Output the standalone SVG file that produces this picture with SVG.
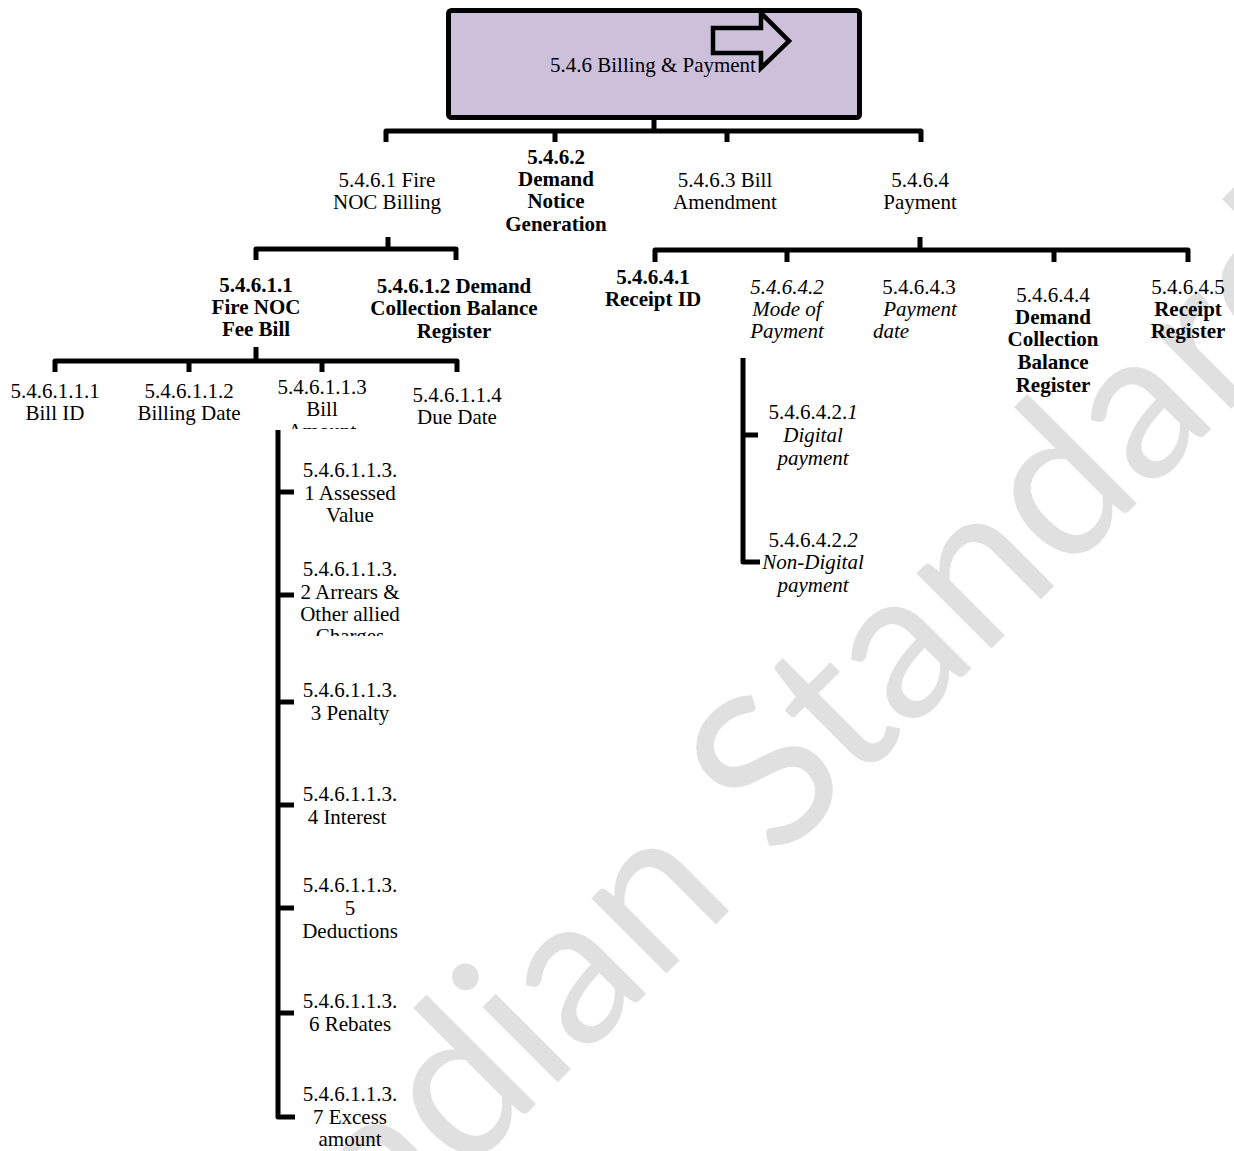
<svg xmlns="http://www.w3.org/2000/svg" width="1234" height="1151" viewBox="0 0 1234 1151">
<style>
text{font-family:"Liberation Serif","Times New Roman",serif;font-size:21px;fill:#000;text-anchor:middle}
.b{font-weight:bold}
.i{font-style:italic}
.ln{fill:none;stroke:#000;stroke-width:5;stroke-linejoin:round;stroke-linecap:butt}
.wm{font-family:Lato,"Open Sans",sans-serif;font-size:210px;fill:#e0e0e0;text-anchor:start}
</style>
<defs>
<clipPath id="clipAmount"><rect x="260" y="370" width="130" height="59"/></clipPath>
<clipPath id="clipCharges"><rect x="280" y="550" width="140" height="86"/></clipPath>
</defs>
<rect width="1234" height="1151" fill="#fff"/>
<text class="wm" transform="translate(340,1300) rotate(-45)">Indian Standard</text>

<g id="connectors">
<path class="ln" d="M654,120 V131 M386,142 V131 H921 V142 M555,131 V142 M727,131 V142"/>
<path class="ln" d="M388,237 V249 M256,260 V249 H456 V260"/>
<path class="ln" d="M920,237 V250 M655,262 V250 H1188 V262 M787,250 V262 M1054,250 V262"/>
<path class="ln" d="M256,347 V361 M55,372 V361 H457 V372 M189,361 V372 M322,361 V372"/>
<path class="ln" d="M278,430 V1117 H295 M278,492 H294 M278,595 H294 M278,702 H294 M278,805 H294 M278,908 H294 M278,1013 H294"/>
<path class="ln" d="M743,358 V562 H760 M743,435 H758"/>
</g>

<g id="n546">
<rect x="448.5" y="10.5" width="411" height="107" rx="3" fill="#ccc0da" stroke="#000" stroke-width="5"/>
<polygon points="713,28 761,28 761,13 789,41 761,68 761,53 713,53" fill="#ccc0da" stroke="#000" stroke-width="4.5" stroke-linejoin="miter"/>
<text x="653" y="72">5.4.6 Billing &amp; Payment</text>
</g>

<g id="n5461"><text x="387" y="187">5.4.6.1 Fire<tspan x="387" y="209">NOC Billing</tspan></text></g>
<g id="n5462"><text class="b" x="556" y="164">5.4.6.2<tspan x="556" y="186">Demand</tspan><tspan x="556" y="208">Notice</tspan><tspan x="556" y="231">Generation</tspan></text></g>
<g id="n5463"><text x="725" y="187">5.4.6.3 Bill<tspan x="725" y="209">Amendment</tspan></text></g>
<g id="n5464"><text x="920" y="187">5.4.6.4<tspan x="920" y="209">Payment</tspan></text></g>

<g id="n54611"><text class="b" x="256" y="292">5.4.6.1.1<tspan x="256" y="314">Fire NOC</tspan><tspan x="256" y="336">Fee Bill</tspan></text></g>
<g id="n54612"><text class="b" x="454" y="293">5.4.6.1.2 Demand<tspan x="454" y="315">Collection Balance</tspan><tspan x="454" y="338">Register</tspan></text></g>

<g id="n54641"><text class="b" x="653" y="284">5.4.6.4.1<tspan x="653" y="306">Receipt ID</tspan></text></g>
<g id="n54642"><text class="i" x="787" y="294">5.4.6.4.2<tspan x="787" y="316">Mode of</tspan><tspan x="787" y="338">Payment</tspan></text></g>
<g id="n54643"><text x="919" y="294">5.4.6.4.3<tspan class="i" x="920" y="316">Payment</tspan><tspan class="i" x="891" y="338">date</tspan></text></g>
<g id="n54644"><text x="1053" y="302">5.4.6.4.4<tspan class="b" x="1053" y="324">Demand</tspan><tspan class="b" x="1053" y="346">Collection</tspan><tspan class="b" x="1053" y="369">Balance</tspan><tspan class="b" x="1053" y="392">Register</tspan></text></g>
<g id="n54645"><text x="1188" y="294">5.4.6.4.5<tspan class="b" x="1188" y="316">Receipt</tspan><tspan class="b" x="1188" y="338">Register</tspan></text></g>

<g id="n546111"><text x="55" y="398">5.4.6.1.1.1<tspan x="55" y="420">Bill ID</tspan></text></g>
<g id="n546112"><text x="189" y="398">5.4.6.1.1.2<tspan x="189" y="420">Billing Date</tspan></text></g>
<g id="n546113" clip-path="url(#clipAmount)"><text x="322" y="394">5.4.6.1.1.3<tspan x="322" y="416">Bill</tspan><tspan x="322" y="438">Amount</tspan></text></g>
<g id="n546114"><text x="457" y="402">5.4.6.1.1.4<tspan x="457" y="424">Due Date</tspan></text></g>

<g id="n5461131"><text x="350" y="477">5.4.6.1.1.3.<tspan x="350" y="500">1 Assessed</tspan><tspan x="350" y="522">Value</tspan></text></g>
<g id="n5461132" clip-path="url(#clipCharges)"><text x="350" y="576">5.4.6.1.1.3.<tspan x="350" y="599">2 Arrears &amp;</tspan><tspan x="350" y="621">Other allied</tspan><tspan x="350" y="643">Charges</tspan></text></g>
<g id="n5461133"><text x="350" y="697">5.4.6.1.1.3.<tspan x="350" y="720">3 Penalty</tspan></text></g>
<g id="n5461134"><text x="350" y="801">5.4.6.1.1.3.<tspan x="347" y="824">4 Interest</tspan></text></g>
<g id="n5461135"><text x="350" y="892">5.4.6.1.1.3.<tspan x="350" y="915">5</tspan><tspan x="350" y="938">Deductions</tspan></text></g>
<g id="n5461136"><text x="350" y="1008">5.4.6.1.1.3.<tspan x="350" y="1031">6 Rebates</tspan></text></g>
<g id="n5461137"><text x="350" y="1101">5.4.6.1.1.3.<tspan x="350" y="1124">7 Excess</tspan><tspan x="350" y="1146">amount</tspan></text></g>

<g id="n546421"><text x="813" y="419">5.4.6.4.2.<tspan class="i">1</tspan><tspan class="i" x="813" y="442">Digital</tspan><tspan class="i" x="813" y="465">payment</tspan></text></g>
<g id="n546422"><text x="813" y="547">5.4.6.4.2.<tspan class="i">2</tspan><tspan class="i" x="813" y="569">Non-Digital</tspan><tspan class="i" x="813" y="592">payment</tspan></text></g>
</svg>
